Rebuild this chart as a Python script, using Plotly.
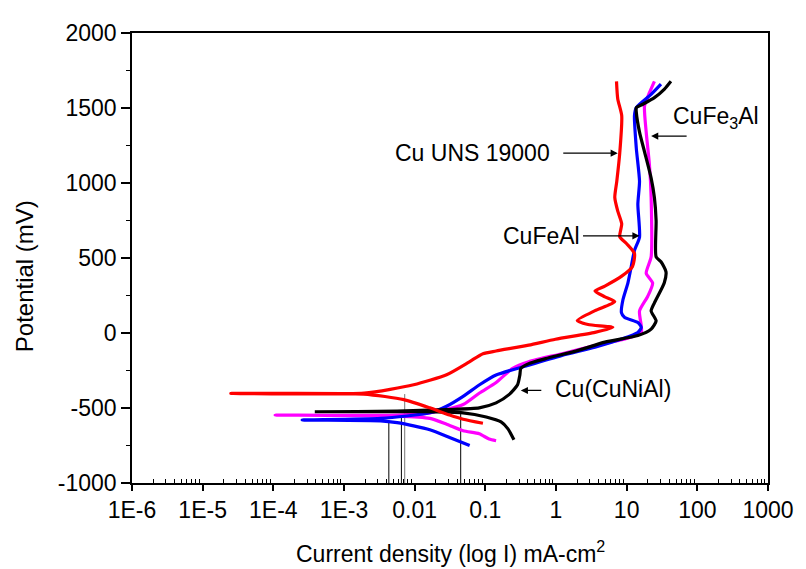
import plotly.graph_objects as go

# ---------------- data (current density in mA-cm^2, potential in mV) ----------------
# Cu UNS 19000 (red): cathodic end -> Ecorr tip -> anodic branch
red_i = [0.0925, 0.0485, 0.0312, 0.0164, 0.00702, 0.0019, 2.5e-5, 0.00193, 0.00966, 0.0283,
         0.0594, 0.0925, 0.142, 0.411, 0.982, 3.56, 6.37, 2.84, 2.0, 3.56, 6.79, 4.92, 3.56,
         4.92, 8.51, 12.1, 12.9, 10.0, 7.98, 8.51, 7.48, 6.79, 7.24, 7.98, 8.51, 7.48, 7.18]
red_e = [-602, -575, -547, -499, -444, -407, -403, -401, -345, -278,
         -192, -138, -120, -81, -42, 4, 37, 57, 83, 149, 208, 241, 280,
         313, 379, 444, 530, 595, 641, 727, 812, 904, 1009, 1199, 1449, 1560, 1678]

# Cu(CuNiAl) (black)
black_i = [0.254, 0.209, 0.167, 0.103, 0.0485, 0.0108, 3.86e-4, 0.00565, 0.0283, 0.082,
           0.142, 0.216, 0.286, 0.308, 0.318, 0.411, 0.711, 2.06, 4.92, 14.4, 22.2, 26.1,
           22.2, 24.7, 34.0, 36.0, 30.6, 26.1, 26.1, 24.7, 22.2, 17.9, 15.2, 13.7, 13.7,
           16.9, 24.7, 34.0, 42.3]
black_e = [-711, -639, -593, -560, -532, -524, -525, -521, -510, -499,
           -466, -411, -345, -280, -236, -204, -171, -116, -61, -17, 26, 81,
           147, 201, 333, 409, 475, 508, 748, 902, 1033, 1208, 1339, 1470, 1503,
           1525, 1569, 1624, 1678]

# CuFeAl (blue)
blue_i = [0.06, 0.0312, 0.0164, 0.00968, 0.00565, 0.0033, 2.56e-4, 0.0033, 0.0164, 0.0283,
          0.0485, 0.0828, 0.142, 0.411, 1.22, 3.56, 8.43, 14.4, 16.1, 14.4, 9.38, 8.43,
          8.87, 10.4, 11.6, 12.9, 15.2, 14.4, 15.2, 13.7, 12.9, 13.7, 22.2, 30.6]
blue_e = [-750, -696, -645, -619, -598, -586, -580, -569, -532, -488,
          -422, -345, -280, -214, -149, -94, -40, 4, 37, 70, 103, 136,
          223, 333, 442, 551, 639, 858, 1011, 1230, 1449, 1503, 1591, 1659]

# CuFe3Al (magenta)
mag_i = [0.142, 0.113, 0.082, 0.0485, 0.0283, 0.0164, 0.00565, 1.06e-4, 0.00565, 0.0164,
         0.0485, 0.0828, 0.142, 0.243, 0.411, 1.22, 3.56, 10.3, 16.1, 16.1, 15.2, 19.9,
         23.3, 18.9, 22.2, 22.2, 21.0, 18.9, 17.9, 21.0, 24.7]
mag_e = [-718, -707, -672, -652, -608, -569, -554, -547, -547, -532,
         -477, -400, -330, -236, -192, -138, -83, -35, 4, 48, 147, 245,
         333, 398, 508, 902, 1120, 1339, 1514, 1602, 1678]

# Tafel extrapolation drop lines (Icorr, Ecorr)
tafel_i = [0.00431, 0.00649, 0.00723, 0.0448]
tafel_e = [-582, -549, -407, -532]
tafel_colors = ["black", "black", "#777777", "black"]

x_tick_vals = [1e-6, 1e-5, 1e-4, 1e-3, 1e-2, 1e-1, 1, 10, 100, 1000]
x_tick_text = ["1E-6", "1E-5", "1E-4", "1E-3", "0.01", "0.1", "1", "10", "100", "1000"]
x_minor_vals = [m * 10.0 ** k for k in range(-6, 3) for m in range(2, 10)]

y_tick_vals = [-1000, -500, 0, 500, 1000, 1500, 2000]
y_tick_text = ["-1000", "-500", "0", "500", "1000", "1500", "2000"]

FONT = "Liberation Sans, Arial, sans-serif"

fig = go.Figure()

for ic, ec, col in zip(tafel_i, tafel_e, tafel_colors):
    fig.add_trace(go.Scatter(x=[ic, ic], y=[-1000, ec], mode="lines",
                             line=dict(color=col, width=1), showlegend=False,
                             hoverinfo="skip"))

series = [
    ("CuFe3Al", mag_i, mag_e, "#FF00FF"),
    ("CuFeAl", blue_i, blue_e, "#0000FF"),
    ("Cu(CuNiAl)", black_i, black_e, "#000000"),
    ("Cu UNS 19000", red_i, red_e, "#FF0000"),
]
for name, xi, ye, col in series:
    fig.add_trace(go.Scatter(x=xi, y=ye, mode="lines", name=name,
                             line=dict(color=col, width=3.2, shape="spline", smoothing=0.6),
                             showlegend=False))

ann_font = dict(family=FONT, size=23, color="black")
arrow_style = dict(showarrow=True, arrowhead=2, arrowsize=1.1, arrowwidth=1.3,
                   arrowcolor="black", text="")
annotations = [
    # labels
    dict(x=-0.05, y=1199, xref="x", yref="y", text="Cu UNS 19000", showarrow=False,
         xanchor="right", yanchor="middle", font=ann_font),
    dict(x=0.37, y=648, xref="x", yref="y", text="CuFeAl", showarrow=False,
         xanchor="right", yanchor="middle", font=ann_font),
    dict(x=1.63, y=1440, xref="x", yref="y", text="CuFe<sub>3</sub>Al", showarrow=False,
         xanchor="left", yanchor="middle", font=ann_font),
    dict(x=-0.036, y=-376, xref="x", yref="y", text="Cu(CuNiAl)", showarrow=False,
         xanchor="left", yanchor="middle", font=ann_font),
    # arrows
    dict(x=0.874, y=1199, xref="x", yref="y", ax=-56, ay=0, **arrow_style),
    dict(x=1.182, y=648, xref="x", yref="y", ax=-58, ay=0, **arrow_style),
    dict(x=1.346, y=1313, xref="x", yref="y", ax=37, ay=0, **arrow_style),
    dict(x=-0.498, y=-383, xref="x", yref="y", ax=22, ay=0, **arrow_style),
    # axis titles
    dict(x=-0.1695, y=0.46, xref="paper", yref="paper", text="Potential (mV)", showarrow=False,
         textangle=-90, xanchor="center", yanchor="middle", font=dict(family=FONT, size=24)),
    dict(x=0.5, y=-0.153, xref="paper", yref="paper",
         text="Current density (log I) mA-cm<sup>2</sup>", showarrow=False,
         xanchor="center", yanchor="middle", font=dict(family=FONT, size=23)),
]

# page body has an 8px default margin, so the figure is placed at (8, 8)
fig.update_layout(
    width=798, height=561,
    margin=dict(l=124, r=31, t=18, b=86),
    plot_bgcolor="white", paper_bgcolor="white",
    font=dict(family=FONT, size=23, color="black"),
    showlegend=False,
    annotations=annotations,
    xaxis=dict(type="log", range=[-6, 3], tickmode="array", tickvals=x_tick_vals,
               ticktext=x_tick_text, ticks="outside", ticklen=6, tickwidth=1.5,
               tickcolor="black", showline=True, linewidth=1.5, linecolor="black",
               mirror=True, showgrid=False, zeroline=False, ticklabeloverflow="allow",
               tickfont=dict(family=FONT, size=23),
               minor=dict(tickmode="array", tickvals=x_minor_vals, ticks="inside",
                          ticklen=4, tickwidth=1, tickcolor="black", showgrid=False)),
    yaxis=dict(range=[-1000, 2000], tickmode="array", tickvals=y_tick_vals,
               ticktext=y_tick_text,
               ticks="outside", ticklen=9, tickwidth=1.5, tickcolor="black",
               showline=True, linewidth=1.5, linecolor="black", mirror=True,
               showgrid=False, zeroline=False, tickfont=dict(family=FONT, size=23),
               minor=dict(tickmode="linear", tick0=-1000, dtick=250, ticks="outside",
                          ticklen=4, tickwidth=1, tickcolor="black", showgrid=False)),
)

fig.write_html("out.html")
